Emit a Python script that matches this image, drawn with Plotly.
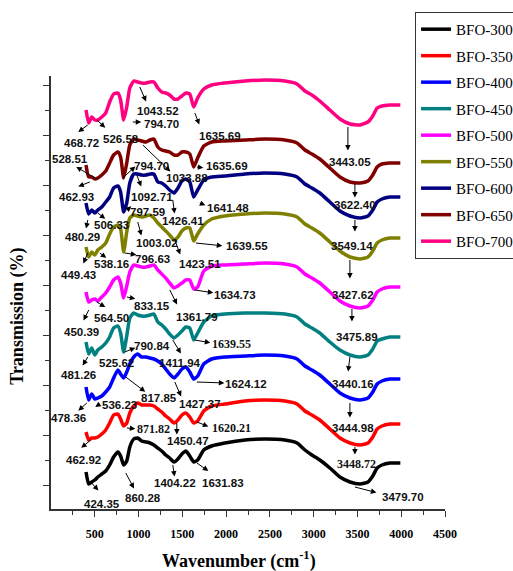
import plotly.graph_objects as go

# Wavenumber grid (cm-1) shared by all spectra
wavenumber = [400, 430, 465, 500, 535, 580, 625, 670, 715, 765, 795, 830, 865, 900, 945,
              990, 1035, 1085, 1130, 1175, 1220, 1265, 1310, 1355, 1405, 1450, 1495, 1540,
              1585, 1630, 1675, 1745, 1835, 1985, 2215, 2445, 2670, 2810, 2900, 2980, 3070,
              3185, 3300, 3415, 3530, 3620, 3675, 3725, 3780, 3870, 3990]

# Transmission (stacked, arbitrary offset units)
bfo_300 = [37, 25, 27, 29, 32, 35, 38, 44, 52, 57, 53, 44, 48, 62, 70, 71, 68, 67, 66, 64,
           61, 58, 54, 51, 47, 50, 55, 58, 53, 47, 49, 59, 63, 66, 69, 70, 69, 66, 59, 54,
           49, 41, 32, 27, 25, 27, 33, 41, 44, 46, 46]
bfo_350 = [77, 69, 71, 71, 72, 75, 79, 86, 94, 95, 90, 83, 86, 96, 103, 106, 104, 104, 104, 103,
           100, 97, 93, 90, 86, 89, 94, 96, 92, 86, 88, 98, 103, 105, 108, 109, 108, 105, 98, 94,
           89, 80, 71, 66, 64, 66, 72, 80, 83, 85, 85]
bfo_400 = [122, 109, 115, 110, 111, 113, 117, 122, 131, 139, 135, 131, 137, 145, 152, 155, 152, 152, 151, 150,
           148, 145, 140, 135, 131, 135, 140, 142, 137, 130, 133, 145, 150, 152, 153, 154, 153, 150, 143, 139,
           134, 125, 116, 111, 109, 111, 117, 125, 128, 130, 130]
bfo_450 = [167, 155, 161, 154, 159, 162, 166, 172, 181, 183, 176, 157, 173, 191, 196, 194, 193, 193, 194, 195,
           187, 184, 180, 175, 171, 174, 178, 182, 181, 169, 176, 187, 193, 195, 196, 196, 195, 192, 185, 181,
           176, 167, 159, 154, 152, 154, 160, 168, 170, 172, 172]
bfo_500 = [217, 207, 209, 210, 208, 212, 216, 222, 229, 232, 226, 211, 223, 237, 244, 243, 242, 242, 243, 244,
           239, 235, 231, 226, 221, 223, 226, 229, 229, 220, 222, 238, 243, 244, 245, 246, 245, 242, 235, 231,
           226, 217, 208, 203, 201, 203, 209, 217, 220, 222, 222]
bfo_550 = [262, 252, 257, 254, 259, 262, 266, 275, 282, 284, 280, 257, 277, 291, 294, 293, 292, 293, 294, 291,
           286, 282, 278, 274, 269, 272, 278, 281, 281, 268, 275, 284, 290, 293, 295, 296, 295, 292, 285, 281,
           276, 267, 258, 252, 250, 252, 258, 266, 269, 271, 271]
bfo_600 = [306, 295, 299, 296, 299, 302, 307, 312, 321, 323, 317, 297, 306, 326, 335, 335, 334, 334, 335, 335,
           327, 326, 323, 319, 316, 321, 328, 330, 327, 312, 319, 329, 332, 333, 335, 336, 335, 332, 325, 321,
           316, 307, 298, 293, 291, 293, 299, 307, 310, 312, 312]
bfo_650 = [344, 332, 332, 330, 331, 334, 338, 346, 354, 357, 352, 331, 346, 364, 370, 369, 368, 367, 369, 370,
           362, 359, 358, 357, 354, 354, 357, 357, 355, 342, 351, 363, 367, 368, 369, 370, 369, 366, 359, 355,
           350, 341, 332, 327, 326, 328, 334, 342, 345, 346, 346]
bfo_700 = [399, 386, 392, 389, 389, 392, 396, 407, 415, 416, 409, 389, 402, 421, 428, 427, 426, 426, 427, 427,
           421, 417, 416, 414, 410, 410, 413, 416, 415, 402, 411, 420, 424, 426, 428, 429, 428, 425, 418, 414,
           408, 399, 390, 385, 384, 387, 393, 401, 403, 404, 404]

series_names = ["BFO-300", "BFO-350", "BFO-400", "BFO-450", "BFO-500",
                "BFO-550", "BFO-600", "BFO-650", "BFO-700"]
series_values = [bfo_300, bfo_350, bfo_400, bfo_450, bfo_500, bfo_550, bfo_600, bfo_650, bfo_700]
series_colors = ["#000000", "#FF0000", "#0000FF", "#008080", "#FF00FF",
                 "#808000", "#000080", "#800000", "#FF0080"]

x_tick_values = [500, 1000, 1500, 2000, 2500, 3000, 3500, 4000, 4500]
x_tick_labels = ["500", "1000", "1500", "2000", "2500", "3000", "3500", "4000", "4500"]

# Peak labels: (text, wavenumber, transmission at arrow start, arrow dx, dy (px), text dx, dy (px), serif)
peak_labels = [
    ("1043.52", 1014, 422, 7, 16, 18, -24, False),
    ("794.70", 934, 387, 10, 0, 29, -2, False),
    ("468.72", 420, 384, -11, 8, -6, -18, False),
    ("526.58", 523, 389, 10, 9, 24, -19, False),
    ("1635.69", 1643, 396, 5, 13, 25, -23, False),
    ("528.51", 523, 330, -22, -13, -27, 20, False),
    ("462.93", 443, 327, -13, 5, -13, -15, False),
    ("794.70", 820, 331, 14, -13, 29, 12, False),
    ("1033.88", 1049, 364, 29, 28, 44, -33, False),
    ("1635.69", 1666, 342, 8, 1, 30, 1, False),
    ("1092.71", 980, 334, 5, 13, 15, -22, False),
    ("1641.48", 1700, 306, 7, 3, 28, -5, False),
    ("1426.41", 1391, 309, 2, 15, 10, -21, False),
    ("506.33", 534, 296, 9, 7, 14, -12, False),
    ("797.59", 866, 299, 6, -5, 21, -2, False),
    ("480.29", 420, 289, -2, 10, -5, -17, False),
    ("1003.02", 991, 287, 4, 15, 19, -21, False),
    ("1423.51", 1414, 269, 6, 16, 25, -24, False),
    ("1639.55", 1654, 266, 28, 3, 51, -3, False),
    ("449.43", 420, 256, -5, 12, -9, -22, False),
    ("538.16", 557, 256, 8, 6, 12, -11, False),
    ("796.63", 843, 256, 13, 2, 28, -6, False),
    ("1634.73", 1643, 219, 20, 3, 40, -5, False),
    ("833.15", 866, 212, 10, 2, 25, -9, False),
    ("1361.79", 1357, 219, 8, 16, 27, -27, False),
    ("450.39", 431, 199, -6, 12, -7, -22, False),
    ("564.50", 523, 207, 10, 6, 15, -16, False),
    ("1639.55", 1643, 169, 17, 3, 37, -4, True),
    ("790.84", 843, 157, 12, -5, 27, 6, False),
    ("1411.94", 1391, 169, 9, 15, 7, -23, False),
    ("481.26", 420, 152, -6, 10, -9, -18, False),
    ("525.62", 534, 152, None, None, 19, -6, False),
    ("1624.12", 1666, 127, 29, 1, 49, -2, False),
    ("817.85", 854, 132, 21, 16, 33, -21, False),
    ("1427.37", 1414, 127, 7, 16, 25, -22, False),
    ("478.36", 409, 106, -10, 9, -18, -15, False),
    ("536.23", 557, 105, -6, 4, 20, -1, False),
    ("871.82", 866, 81, 10, 1, 27, -1, True),
    ("1620.21", 1666, 87, 13, 5, 35, -6, True),
    ("1450.47", 1437, 86, 0, 13, 11, -18, False),
    ("462.92", 454, 69, -11, 9, -7, -20, False),
    ("1404.22", 1391, 44, 2, 13, 2, -18, False),
    ("1631.83", 1666, 46, 13, 9, 26, -20, False),
    ("860.28", 854, 36, 9, 17, 17, -25, False),
    ("424.35", 443, 28, 10, 11, 12, -23, False),
    ("3443.05", 3391, 382, 0, 25, 2, -35, False),
    ("3622.40", 3471, 325, 0, 15, 0, -21, False),
    ("3549.14", 3471, 289, 0, 13, -3, -26, False),
    ("3427.62", 3414, 249, 0, 20, 3, -35, False),
    ("3475.89", 3437, 200, 0, 14, 5, -28, False),
    ("3440.16", 3414, 152, -2, 16, 3, -27, False),
    ("3444.98", 3414, 106, 0, 16, 3, -25, False),
    ("3448.72", 3471, 62, 0, 9, 2, -17, True),
    ("3479.70", 3471, 22, 23, 6, 48, -10, False),
]

SERIF = "Liberation Serif, Times New Roman, serif"
SANS = "Liberation Sans, Arial, sans-serif"

fig = go.Figure()
for name, vals, col in zip(series_names, series_values, series_colors):
    fig.add_trace(go.Scatter(
        x=wavenumber, y=vals, mode="lines", name=name, legendgroup=name,
        line=dict(color=col, width=3.5, shape="spline", smoothing=0.5),
    ))

annotations = []
for text, wx, wy, adx, ady, tdx, tdy, serif in peak_labels:
    if adx is not None:
        annotations.append(dict(
            x=wx, y=wy, xref="x", yref="y", text="", showarrow=True,
            ax=adx, ay=ady, axref="pixel", ayref="pixel",
            arrowside="start", startarrowhead=2, startarrowsize=1.1,
            arrowwidth=1, arrowcolor="#000000",
        ))
    annotations.append(dict(
        x=wx, y=wy, xref="x", yref="y", text=text, showarrow=False,
        xshift=tdx, yshift=tdy, xanchor="center", yanchor="middle",
        font=dict(family=SERIF if serif else SANS, size=12 if serif else 11.5,
                  color="#111111", weight=700),
    ))

annotations.append(dict(
    x=0.477, y=-0.118, xref="paper", yref="paper", showarrow=False,
    text="Wavenumber (cm<sup>-1</sup>)", xanchor="center", yanchor="middle",
    font=dict(family=SERIF, size=18, color="#000000", weight=700),
))
annotations.append(dict(
    x=-0.084, y=0.446, xref="paper", yref="paper", showarrow=False,
    text="Transmission (%)", textangle=-90, xanchor="center", yanchor="middle",
    font=dict(family=SERIF, size=18, color="#000000", weight=700),
))

fig.update_layout(
    width=513, height=571,
    margin=dict(l=51, r=68, t=76, b=62, autoexpand=False),
    paper_bgcolor="white", plot_bgcolor="white",
    showlegend=True,
    legend=dict(
        x=0.924, y=1.148, xanchor="left", yanchor="top",
        bordercolor="#333333", borderwidth=1, bgcolor="white",
        font=dict(family=SERIF, size=15, color="#000000"),
        tracegroupgap=4,
    ),
    annotations=annotations,
)
fig.update_xaxes(
    range=[0, 4500], tickmode="array", tickvals=x_tick_values, ticktext=x_tick_labels,
    showgrid=False, zeroline=False, showline=True, linecolor="#333333", linewidth=1.5,
    ticks="outside", ticklen=6, tickwidth=1.2, tickcolor="#333333",
    ticklabelstandoff=7,
    tickfont=dict(family=SERIF, size=12, color="#000000", weight=700),
    minor=dict(tickmode="linear", tick0=250, dtick=500, ticks="outside", ticklen=4,
               tickwidth=1, tickcolor="#333333"),
)
fig.update_yaxes(
    range=[0, 433], tick0=24, dtick=50, showticklabels=False,
    showgrid=False, zeroline=False, showline=True, linecolor="#333333", linewidth=1.5,
    ticks="outside", ticklen=6, tickwidth=1.2, tickcolor="#333333",
    minor=dict(tick0=49, dtick=50, ticks="outside", ticklen=4, tickwidth=1, tickcolor="#333333"),
)

fig.write_html("out.html")
